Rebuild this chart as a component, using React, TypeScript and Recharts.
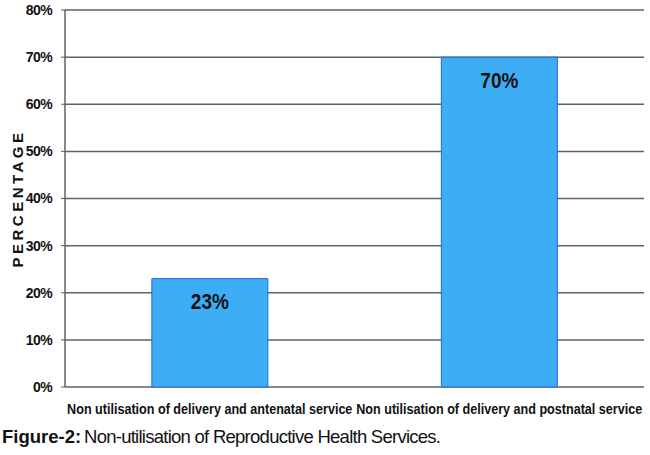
import React from 'react';
import { BarChart, Bar, XAxis, YAxis, CartesianGrid, LabelList } from 'recharts';

const categories = [
  'Non utilisation of delivery and antenatal service',
  'Non utilisation of delivery and postnatal service',
];
const percentages = [23, 70];
const yTicks = [0, 10, 20, 30, 40, 50, 60, 70, 80];
const boundaryTicks = [0, 1, 2];

const data = categories.map((name, i) => ({ name, value: percentages[i], pos: i + 0.5 }));

const font = '"Liberation Sans", Arial, sans-serif';
const gridColor = '#5a6662';
const ink = '#111';

// the original uses a narrow typeface: smaller size stretched vertically gives the same look
const CategoryTick = (props: any) => {
  const { x, y, payload } = props;
  return (
    <g transform={`translate(${x}, ${y + 26.5}) scale(1, 1.19)`}>
      <text x={0} y={0} textAnchor="middle" fill={ink} fontSize={12.6} fontWeight="bold" fontFamily={font}>
        {payload.value}
      </text>
    </g>
  );
};

const PercentLabel = (props: any) => {
  const { x, y, width, value } = props;
  return (
    <g transform={`translate(${x + width / 2}, ${y + 30.5}) scale(1, 1.16)`}>
      <text x={0} y={0} textAnchor="middle" fill={ink} fontSize={19} fontWeight="bold" fontFamily={font}>
        {`${value}%`}
      </text>
    </g>
  );
};

export default function App() {
  return (
    <div style={{ position: 'absolute', left: 0, top: 0, width: 650, height: 455, background: '#fff' }}>
      <BarChart
        width={650}
        height={425}
        data={data}
        margin={{ top: 10, right: 6, left: 0, bottom: 8 }}
        barCategoryGap="30%"
      >
        <CartesianGrid vertical={false} stroke={gridColor} strokeWidth={1.5} />
        <XAxis
          xAxisId="bounds"
          type="number"
          dataKey="pos"
          domain={[0, 2]}
          ticks={boundaryTicks}
          tick={false}
          height={0}
          tickSize={5}
          axisLine={{ stroke: gridColor, strokeWidth: 1.5 }}
          tickLine={{ stroke: gridColor }}
        />
        <XAxis
          dataKey="name"
          height={30}
          axisLine={false}
          tickLine={false}
          tickSize={0}
          tickMargin={0}
          interval={0}
          tick={<CategoryTick />}
        />
        <YAxis
          width={65}
          domain={[0, 80]}
          ticks={yTicks}
          tickFormatter={(v) => `${v}%`}
          tickSize={4}
          tickMargin={9}
          axisLine={{ stroke: gridColor, strokeWidth: 1.5 }}
          tickLine={{ stroke: gridColor }}
          tick={{ fill: ink, fontSize: 14, fontWeight: 'bold', fontFamily: font, letterSpacing: -0.6 }}
          label={{
            value: 'PERCENTAGE',
            angle: -90,
            position: 'insideLeft',
            offset: 18,
            style: { textAnchor: 'middle', fill: ink, fontSize: 15, fontWeight: 'bold', letterSpacing: 3.5, fontFamily: font },
          }}
        />
        <Bar dataKey="value" fill="#3dadf5" stroke="#2466de" strokeWidth={1} isAnimationActive={false}>
          <LabelList dataKey="value" content={<PercentLabel />} />
        </Bar>
      </BarChart>
      <svg width={650} height={30} style={{ position: 'absolute', left: 0, top: 425 }}>
        <text x={2} y={18} fill={ink} fontSize={18.5} fontWeight="bold" fontFamily={font}>
          Figure-2:
        </text>
        <text x={84} y={18} fill={ink} fontSize={18.5} fontFamily={font} textLength={357} lengthAdjust="spacing">
          Non-utilisation of Reproductive Health Services.
        </text>
      </svg>
    </div>
  );
}
